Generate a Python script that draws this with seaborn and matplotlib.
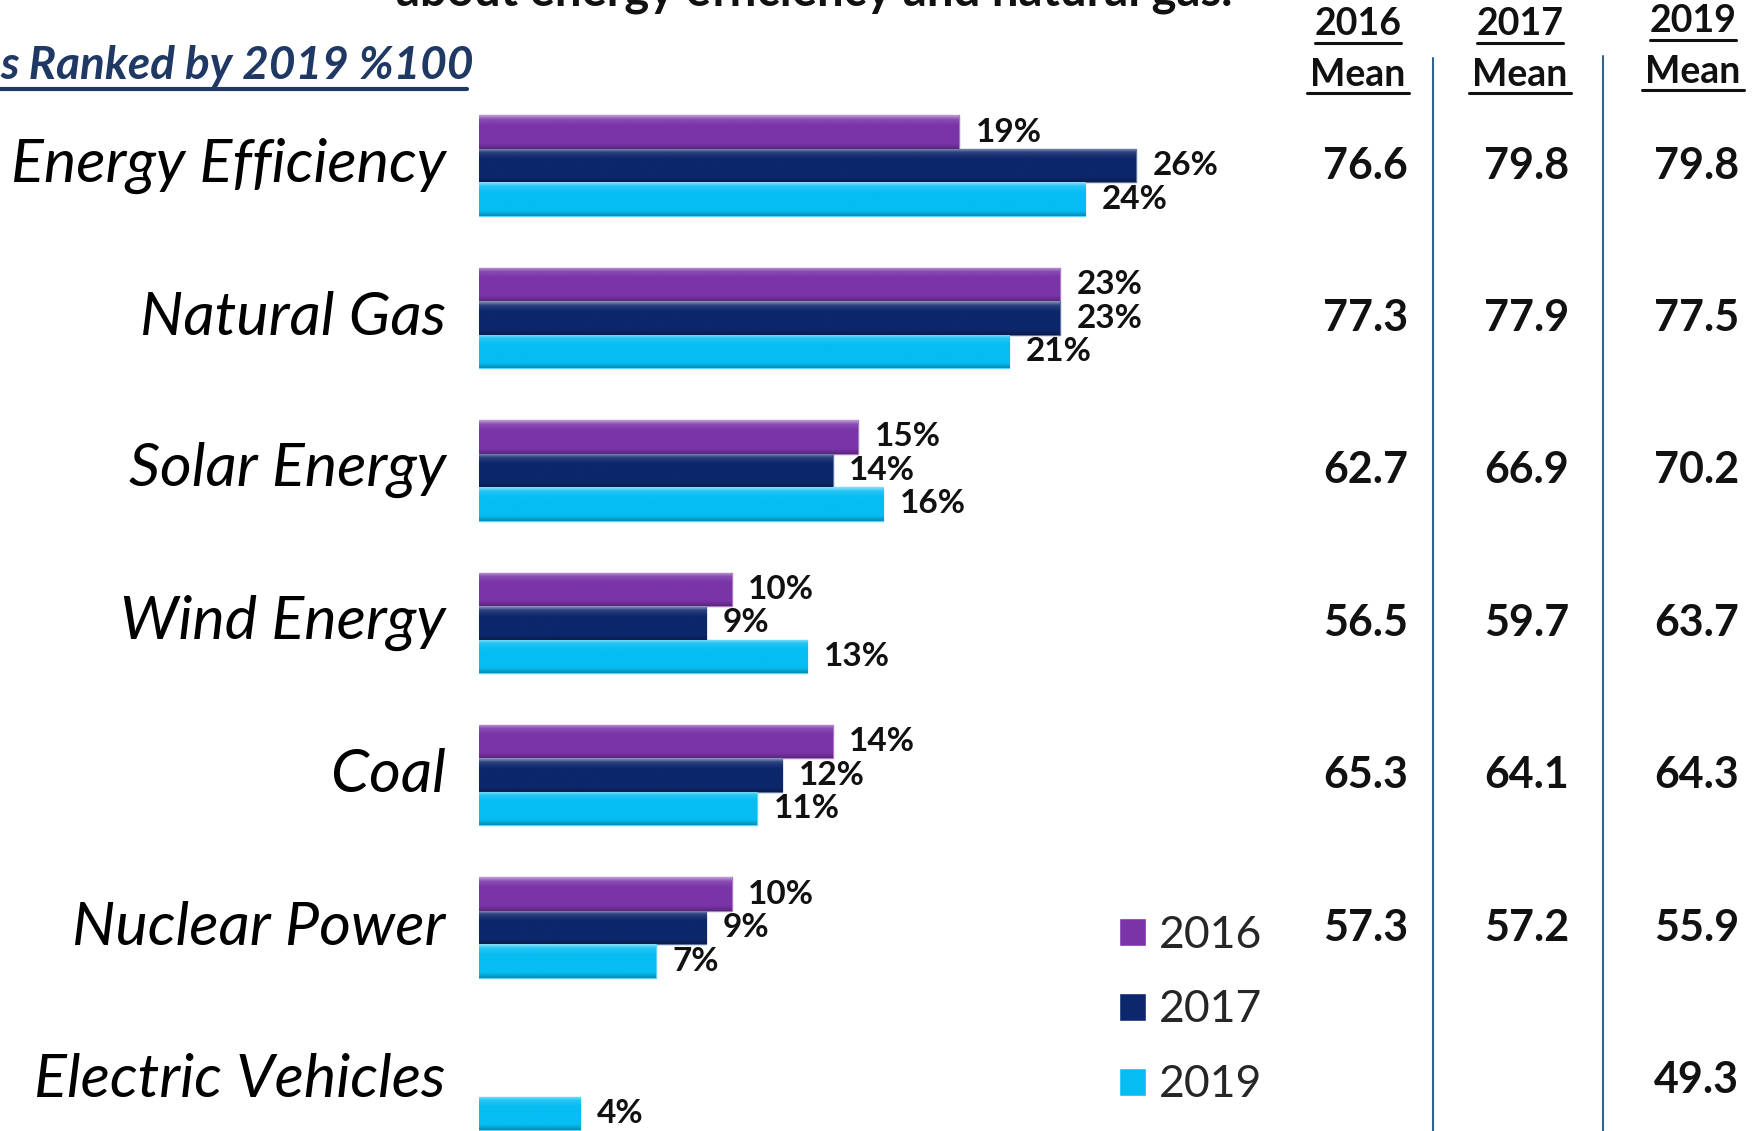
import numpy as np
import pandas as pd
import matplotlib
matplotlib.use("Agg")
import matplotlib.pyplot as plt
import matplotlib.transforms as mtrans
from matplotlib.lines import Line2D
import seaborn as sns

# ---------------- data ----------------
categories = ["Energy Efficiency", "Natural Gas", "Solar Energy", "Wind Energy",
              "Coal", "Nuclear Power", "Electric Vehicles"]
years = ["2016", "2017", "2019"]
pct_2016 = [19, 23, 15, 10, 14, 10, np.nan]
pct_2017 = [26, 23, 14, 9, 12, 9, np.nan]
pct_2019 = [24, 21, 16, 13, 11, 7, 4]
mean_2016 = ["76.6", "77.3", "62.7", "56.5", "65.3", "57.3", ""]
mean_2017 = ["79.8", "77.9", "66.9", "59.7", "64.1", "57.2", ""]
mean_2019 = ["79.8", "77.5", "70.2", "63.7", "64.3", "55.9", "49.3"]
mean_headers = ["2016", "2017", "2019"]
palette = {"2016": "#7A34A8", "2017": "#0C276B", "2019": "#06BDF2"}
title_text = "about energy efficiency and natural gas."
subtitle_text = "s Ranked by 2019 %100"

rows = []
for yr, vals in zip(years, [pct_2016, pct_2017, pct_2019]):
    for cat, v in zip(categories, vals):
        if not np.isnan(v):
            rows.append({"category": cat, "year": yr, "value": v})
df = pd.DataFrame(rows)

# ---------------- style ----------------
sns.set_theme(style="white")
plt.rcParams["font.family"] = ["Lato", "DejaVu Sans"]

W, H = 1754, 1131
fig = plt.figure(figsize=(W / 100, H / 100), dpi=100)
fig.patch.set_facecolor("white")

x0 = 479          # pixel position of 0%
ppu = 25.26       # pixels per percent
yc0 = 165.6       # pixel y of first group centre
pitch = 152.4     # pixels between groups

ax = fig.add_axes([x0 / W, 0, 1 - x0 / W, 1])
ax.set_facecolor("none")
sns.barplot(data=df, y="category", x="value", hue="year", order=categories,
            hue_order=years, palette=palette, orient="h", width=0.66, gap=0,
            saturation=1, errorbar=None, ax=ax, legend=True)

xlim = (0, (W - x0) / ppu)
ylim = ((H - yc0) / pitch, -yc0 / pitch)
ax.set_xlim(*xlim)
ax.set_ylim(*ylim)

# bevel-like gradient on bars
def mix(c, other, f):
    c = np.array(c[:3]); o = np.array(other)
    return c * (1 - f) + o * f

for p in list(ax.patches):
    if p.get_width() <= 0:
        continue
    base = p.get_facecolor()
    t = np.linspace(0, 1, 60)
    cols = []
    for tt in t:
        if tt < 0.12:
            cols.append(mix(base, (1, 1, 1), 0.40 * (1 - tt / 0.12) + 0.12))
        elif tt < 0.3:
            cols.append(mix(base, (1, 1, 1), 0.12 * (1 - (tt - 0.12) / 0.18)))
        elif tt < 0.85:
            cols.append(np.array(base[:3]))
        else:
            cols.append(mix(base, (0, 0, 0), 0.25 * (tt - 0.85) / 0.15))
    img = np.array(cols).reshape(-1, 1, 3)
    x, y, w, h = p.get_x(), p.get_y(), p.get_width(), p.get_height()
    im = ax.imshow(img, extent=[x, x + w, y, y + h], origin="lower",
                   aspect="auto", zorder=p.get_zorder() + 0.1, interpolation="bilinear")
    im.set_clip_path(p)
    p.set_edgecolor(mix(base, (1, 1, 1), 0.35))
    p.set_linewidth(1.0)
ax.set_xlim(*xlim)
ax.set_ylim(*ylim)

# value labels
for cont in ax.containers:
    ax.bar_label(cont, fmt="{:.0f}%", padding=12, fontsize=24, fontweight="bold",
                 color="#111111")

# axes cosmetics
for s in ax.spines.values():
    s.set_visible(False)
ax.set_xticks([])
ax.set_xlabel("")
ax.set_ylabel("")
ax.tick_params(axis="y", length=0, pad=24)
for lab in ax.get_yticklabels():
    lab.set_fontsize(44)
    lab.set_fontstyle("italic")
    lab.set_color("#000000")
    lab.set_verticalalignment("center")

# legend
sns.move_legend(ax, loc="center left", bbox_to_anchor=(1119 / W, 1 - 1010 / H),
                bbox_transform=fig.transFigure, frameon=False, title=None,
                fontsize=32, handlelength=0.6, handleheight=0.6,
                handletextpad=0.3, labelspacing=0.76, borderpad=0, borderaxespad=0)

# mean columns
trans = mtrans.blended_transform_factory(fig.transFigure, ax.transData)
col_right = [1408, 1569, 1739]
col_center = [1358, 1520, 1693]
for xr, vals in zip(col_right, [mean_2016, mean_2017, mean_2019]):
    for i, v in enumerate(vals):
        if v:
            ax.text(xr / W, i, v, transform=trans, ha="right", va="center",
                    fontsize=31, fontweight="bold", color="#111111", clip_on=False)

def fy(py):
    return 1 - py / H

for k, (xc, hdr) in enumerate(zip(col_center, mean_headers)):
    dy = -3 if k == 2 else 0
    fig.text(xc / W, fy(24 + dy), hdr, ha="center", va="center",
             fontsize=27, fontweight="bold", color="#111111")
    fig.text(xc / W, fy(75 + dy), "Mean", ha="center", va="center",
             fontsize=27, fontweight="bold", color="#111111")
    fig.add_artist(Line2D([(xc - 43) / W, (xc + 43) / W], [fy(43 + dy)] * 2,
                          color="#111111", lw=2.2))
    fig.add_artist(Line2D([(xc - 51) / W, (xc + 51) / W], [fy(93 + dy)] * 2,
                          color="#111111", lw=2.2))

for xs, ys in [(1433, 58), (1603, 56)]:
    fig.add_artist(Line2D([xs / W, xs / W], [fy(ys), 0], color="#2F6291", lw=1.5))

# subtitle and (cut-off, as in the source slide) title
fig.text(0.0, fy(66), subtitle_text, ha="left", va="center", fontsize=33,
         fontweight="bold", fontstyle="italic", color="#1F3864")
fig.add_artist(Line2D([0, 467 / W], [fy(89)] * 2, color="#1F3864", lw=3))
fig.text(814 / W, fy(6), title_text, ha="center", va="baseline", fontsize=34,
         fontweight="bold", color="#111111")

fig.savefig("out.png", dpi=100)
